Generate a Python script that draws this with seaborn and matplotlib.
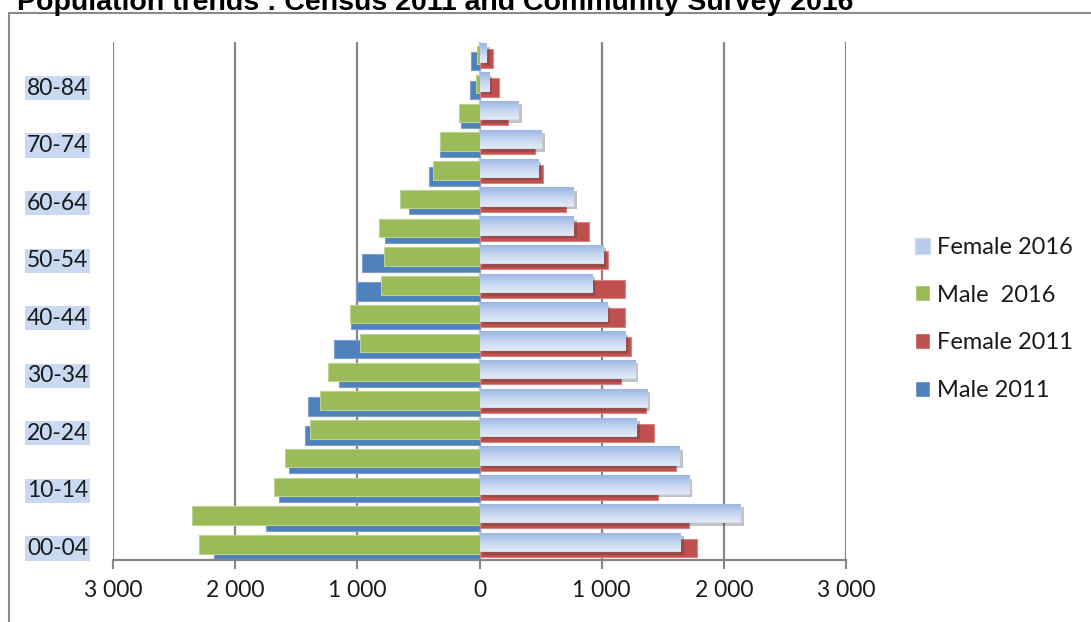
import numpy as np
import pandas as pd
import matplotlib
matplotlib.use("Agg")
import matplotlib.pyplot as plt
import matplotlib.patheffects as pe
from matplotlib.patches import Patch, Rectangle
from matplotlib.colors import LinearSegmentedColormap
import seaborn as sns

# ---------------- data ----------------
age_groups = ["00-04", "05-09", "10-14", "15-19", "20-24", "25-29", "30-34",
              "35-39", "40-44", "45-49", "50-54", "55-59", "60-64", "65-69",
              "70-74", "75-79", "80-84", "85+"]
male_2011 = [2175, 1746, 1643, 1561, 1432, 1400, 1151, 1192, 1053, 1009,
             960, 772, 573, 415, 322, 150, 76, 68]
male_2016 = [2292, 2355, 1684, 1590, 1386, 1304, 1239, 982, 1064, 810,
             783, 824, 647, 382, 322, 164, 27, 20]
female_2011 = [1779, 1713, 1463, 1610, 1432, 1359, 1160, 1242, 1187, 1187,
               1050, 895, 709, 518, 458, 237, 158, 109]
female_2016 = [1643, 2134, 1713, 1637, 1282, 1369, 1271, 1190, 1042, 917,
               1009, 769, 769, 477, 505, 319, 76, 55]
xtick_values = [-3000, -2000, -1000, 0, 1000, 2000, 3000]
xtick_labels = ["3 000", "2 000", "1 000", "0", "1 000", "2 000", "3 000"]
legend_labels = ["Female 2016", "Male  2016", "Female 2011", "Male 2011"]
title = "Population trends : Census 2011 and Community Survey 2016"

# ---------------- style ----------------
sns.set_theme(style="white")
plt.rcParams['font.family'] = ['Lato', 'DejaVu Sans']

W, H = 1091, 622
fig = plt.figure(figsize=(W / 100, H / 100), dpi=100, facecolor="white")
ax = fig.add_axes([113 / W, 62 / H, 733 / W, 518 / H])

idx = np.arange(len(age_groups))
C_M11, C_M16, C_F11, C_F16 = "#4f81bd", "#9bbb59", "#c0504d", "#b8cbeb"

series = [
    (-np.array(male_2011), -0.14, C_M11, "#7d9fcb"),
    (-np.array(male_2016), 0.07, C_M16, "#bcd38f"),
    (np.array(female_2011), -0.05, C_F11, "#d68583"),
    (np.array(female_2016), 0.16, C_F16, "#cfdcf2"),
]
groups = []
for vals, off, col, ecol in series:
    before = len(ax.patches)
    df = pd.DataFrame({"value": vals, "pos": idx + off})
    sns.barplot(data=df, x="value", y="pos", orient="h", native_scale=True,
                width=0.64, color=col, saturation=1, edgecolor=ecol,
                linewidth=0.8, errorbar=None, ax=ax)
    groups.append(ax.patches[before:])

# gradient + shadow for Female 2016 bars
cmap = LinearSegmentedColormap.from_list("fem16", ["#e2eaf7", "#c3d4ef", "#98b5e4"])
grad = np.linspace(0, 1, 64).reshape(-1, 1)
for p in groups[3]:
    p.set_path_effects([pe.SimplePatchShadow(offset=(2.5, -2.5), shadow_rgbFace="#3a3a3a",
                                             alpha=0.3), pe.Normal()])
    x0, y0, w, h = p.get_x(), p.get_y(), p.get_width(), p.get_height()
    im = ax.imshow(grad, extent=(x0, x0 + w, y0, y0 + h), origin="lower", cmap=cmap,
                   aspect="auto", interpolation="bilinear", zorder=p.get_zorder() + 0.01)
    im.set_clip_path(p)

ax.set_xlim(-3000, 3000)
ax.set_ylim(-0.47, 17.53)
ax.set_aspect("auto")
ax.set_xlabel("")
ax.set_ylabel("")

ax.set_xticks(xtick_values)
ax.set_xticklabels(xtick_labels)
ax.set_yticks(idx[::2])
ax.set_yticklabels(age_groups[::2])
ax.tick_params(axis="x", length=6.5, width=1.5, color="#878787", labelsize=16.5,
               pad=8, labelcolor="#1a1a1a", bottom=True, direction="out")
ax.tick_params(axis="y", length=0, labelsize=16.5, pad=18, labelcolor="#1a1a1a")
for lbl in ax.get_yticklabels():
    lbl.set_bbox(dict(facecolor="#c8d9f1", edgecolor="none", pad=1.2))

ax.set_axisbelow(True)
ax.xaxis.grid(True, color="#878787", lw=1.6)
ax.yaxis.grid(False)
for s in ["top", "right", "left"]:
    ax.spines[s].set_visible(False)
ax.spines["bottom"].set_color("#878787")
ax.spines["bottom"].set_linewidth(1.6)
ax.axvline(0, color="#c5d5ee", lw=1.2, zorder=0.8)

# legend
handles = [Patch(facecolor=C_F16, edgecolor="#cfdcf2"), Patch(facecolor=C_M16),
           Patch(facecolor=C_F11), Patch(facecolor=C_M11)]
fig.legend(handles, legend_labels, loc="center left",
           bbox_to_anchor=(915 / W, 1 - 319 / H), frameon=False, fontsize=17,
           handlelength=0.65, handleheight=0.65, handletextpad=0.3,
           labelspacing=1.13, borderpad=0, borderaxespad=0, labelcolor="#1a1a1a")

# title and outer chart border
fig.text(17 / W, 1 - 10 / H, title, family=["Liberation Sans", "DejaVu Sans"],
         fontweight="bold", fontsize=20.5, ha="left", va="baseline", color="black")
fig.add_artist(Rectangle((9 / W, -0.1), 1.2, 1 - 13 / H + 0.1, transform=fig.transFigure,
                         fill=False, edgecolor="#8a8a8a", lw=1.5))

fig.savefig("out.png", dpi=100, facecolor="white")
